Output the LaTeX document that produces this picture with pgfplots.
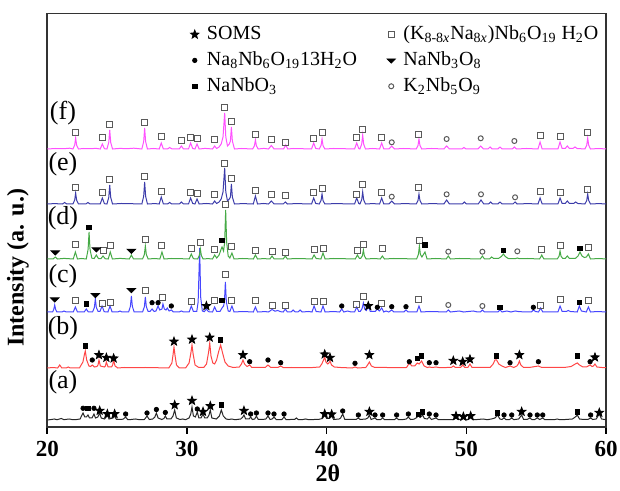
\documentclass[border=0pt]{standalone}
\usepackage{pgfplots}
\pgfplotsset{compat=1.18}
\usepackage{pgfplotstable}
\usepackage{fontspec}
\setmainfont{Liberation Serif}

\definecolor{cA}{RGB}{40,40,40}
\definecolor{cB}{RGB}{255,70,70}
\definecolor{cC}{RGB}{70,70,255}
\definecolor{cD}{RGB}{70,170,70}
\definecolor{cE}{RGB}{60,60,170}
\definecolor{cF}{RGB}{255,80,255}
\definecolor{mk}{RGB}{90,90,90}

% filled five-point star
\pgfdeclareplotmark{fstar}{%
  \pgfpathmoveto{\pgfpointpolar{90}{\pgfplotmarksize}}%
  \pgfpathlineto{\pgfpointpolar{126}{0.42\pgfplotmarksize}}%
  \pgfpathlineto{\pgfpointpolar{162}{\pgfplotmarksize}}%
  \pgfpathlineto{\pgfpointpolar{198}{0.42\pgfplotmarksize}}%
  \pgfpathlineto{\pgfpointpolar{234}{\pgfplotmarksize}}%
  \pgfpathlineto{\pgfpointpolar{270}{0.42\pgfplotmarksize}}%
  \pgfpathlineto{\pgfpointpolar{306}{\pgfplotmarksize}}%
  \pgfpathlineto{\pgfpointpolar{342}{0.42\pgfplotmarksize}}%
  \pgfpathlineto{\pgfpointpolar{18}{\pgfplotmarksize}}%
  \pgfpathlineto{\pgfpointpolar{54}{0.42\pgfplotmarksize}}%
  \pgfpathclose\pgfusepathqfillstroke}
% flat down-pointing wedge
\pgfdeclareplotmark{dtri}{%
  \pgfpathmoveto{\pgfpoint{-1.4*\pgfplotmarksize}{0.5*\pgfplotmarksize}}%
  \pgfpathlineto{\pgfpoint{1.4*\pgfplotmarksize}{0.5*\pgfplotmarksize}}%
  \pgfpathlineto{\pgfpoint{0pt}{-0.9*\pgfplotmarksize}}%
  \pgfpathclose\pgfusepathqfillstroke}

% (f) magenta
\pgfplotstableread{
x y
20.00 0
20.6 0.5
21.2 0.3
21.6 0.8
21.83 0
21.96 3.8
22.03 11
22.10 3.8
22.23 0
22.6 0.5
23.0 0.3
23.5 0.6
23.79 0
23.94 5
24.09 0.3
24.27 0
24.40 6.6
24.47 19
24.54 6.6
24.67 0
25.2 0.6
25.7 0.3
26.2 0.8
26.77 0
26.90 7.3
26.97 21
27.04 7.3
27.17 0
27.6 0.5
28.01 0
28.16 6
28.31 0
28.61 0
28.76 1.5
28.91 0.2
29.45 0
29.60 3
29.75 0
30.11 0
30.26 6
30.41 0.5
30.57 0
30.72 5
30.87 0
31.3 0.6
31.83 0
31.98 3
32.12 0.5
32.30 2
32.45 5
32.58 12
32.70 36
32.78 12
32.90 3
33.03 5
33.11 8
33.18 22
33.25 8
33.40 0
33.9 0.5
34.70 0
34.83 3.2
34.90 9
34.97 3.2
35.10 0
35.5 0.6
35.84 0
36.04 3.5
36.24 0
36.92 0
37.07 4
37.22 0
37.6 0.5
38.2 0.3
38.92 0
39.07 6
39.22 0.5
39.47 0
39.60 3.5
39.67 10
39.74 3.5
39.87 0
40.5 0.5
41.2 0.3
42.00 0
42.15 6
42.30 0.5
42.38 0
42.51 4.9
42.58 14
42.65 4.9
42.78 0
43.3 0.5
43.79 0
43.94 6
44.09 0
44.46 0
44.66 3
44.86 0
45.5 0.5
46.41 0
46.54 3.5
46.61 10
46.68 3.5
46.81 0
47.5 0.5
48.39 0
48.59 3
48.79 0
49.68 0
49.83 1.5
49.98 0
50.83 0
51.03 3
51.23 0
51.55 0
51.70 2
51.85 0
52.26 0
52.41 2
52.56 0
53.29 0
53.44 2
53.59 0
54.3 0.5
55.13 0
55.28 7
55.43 0
56.56 0
56.71 7
56.86 0.5
57.08 0.5
57.23 3
57.38 0.5
57.63 0.5
57.78 2
57.93 0.5
58.49 0
58.62 3.8
58.69 11
58.76 3.8
58.89 0
59.5 0.5
60.00 0
}\trF

% (e) navy
\pgfplotstableread{
x y
20.00 0
20.5 0.4
21.09 0
21.24 1.5
21.39 0
21.83 0
21.96 3.8
22.03 11
22.10 3.8
22.23 0
22.76 0
22.91 1.5
23.06 0
23.79 0
23.94 6
24.09 0.3
24.27 0
24.40 6.6
24.47 19
24.54 6.6
24.67 0
25.3 0.5
26.0 0.3
26.77 0
26.90 7.7
26.97 22
27.04 7.7
27.17 0
27.7 0.4
28.01 0
28.16 7
28.31 0
28.61 0
28.76 1.5
28.91 0
29.45 0
29.60 2
29.75 0
30.11 0
30.26 6
30.41 0.5
30.57 0
30.72 5
30.87 0
31.4 0.5
31.83 0
31.98 3
32.12 0.5
32.30 2
32.45 5
32.58 12
32.70 36
32.78 12
32.90 3
33.03 5
33.11 7
33.18 20
33.25 7
33.40 0
34.0 0.4
34.75 0
34.90 8
35.05 0
35.5 0.5
35.84 0
36.04 3
36.24 0
36.89 0
37.04 2
37.19 0
37.8 0.4
38.92 0
39.07 6
39.22 0.5
39.47 0
39.60 3.5
39.67 10
39.74 3.5
39.87 0
40.6 0.4
41.3 0.2
42.00 0
42.15 6
42.30 0.5
42.38 0
42.51 4.2
42.58 12
42.65 4.2
42.78 0
43.3 0.4
43.79 0
43.94 6
44.09 0
44.46 0
44.66 3
44.86 0
45.6 0.4
46.41 0
46.54 3.5
46.61 10
46.68 3.5
46.81 0
47.6 0.4
48.39 0
48.59 4
48.79 0
49.71 0
49.86 2
50.01 0
50.85 0
51.05 4
51.25 0
51.59 0
51.74 2
51.89 0
52.26 0
52.41 2
52.56 0
53.34 0
53.49 2
53.64 0
54.4 0.4
55.13 0
55.28 6
55.43 0
56.56 0
56.71 6
56.86 0.5
57.08 0.5
57.23 3
57.38 0.5
57.68 0.5
57.83 2
57.98 0.5
58.49 0
58.62 3.5
58.69 10
58.76 3.5
58.89 0
59.5 0.4
60.00 0
}\trE

% (d) green
\pgfplotstableread{
x y
20.00 0
20.42 0
20.57 2
20.72 0
21.2 0.6
21.86 0
22.01 7
22.16 0
22.45 0.5
22.79 0
22.92 9.5
22.99 27
23.06 9.5
23.19 0.8
23.36 0.5
23.51 4
23.66 0.5
23.84 0.3
23.99 3
24.14 0.3
24.36 0
24.51 7
24.66 0
25.2 0.6
25.87 0
26.02 4
26.17 0
26.82 0
26.95 4.5
27.02 13
27.09 4.5
27.22 0
27.7 0.5
28.06 0
28.21 7
28.36 0
28.9 0.5
29.6 0.3
30.16 0
30.31 5
30.46 0.3
30.76 0
30.89 3.5
30.96 10
31.03 3.5
31.16 0
31.5 0.4
31.83 0
31.98 4
32.13 1
32.30 4
32.45 10
32.51 12
32.62 8
32.70 17
32.77 49
32.84 17
32.95 3
33.07 1
33.22 6
33.37 0
34.0 0.5
34.75 0
34.90 4
35.05 0
35.5 0.4
35.94 0
36.09 3
36.24 0
36.89 0
37.04 3
37.19 0
37.8 0.5
38.4 0.3
38.95 0
39.10 4
39.25 0.5
39.59 0
39.74 6
39.89 0
40.5 0.5
41.2 0.3
42.05 0
42.20 4
42.35 0.5
42.43 0.5
42.56 3.2
42.63 9
42.70 3.2
42.83 0
43.4 0.5
43.84 0
43.99 3
44.14 0
44.8 0.5
45.6 0.3
46.44 0
46.57 4.6
46.64 13
46.71 4.6
46.82 2
47.04 7
47.19 0
47.8 0.5
48.56 0
48.71 3
48.86 0
49.5 0.5
51.00 0
51.15 3
51.30 0
51.66 0
51.81 2
51.96 0.5
52.30 0.5
52.51 2.5
52.65 5
52.79 2.5
53.00 0.5
53.50 0.3
53.65 1
53.80 0.3
54.4 0.5
55.25 0
55.40 4
55.55 0
56.51 0
56.64 2.8
56.71 8
56.78 2.8
56.91 0.5
57.08 0.5
57.23 3
57.38 0.5
57.80 0.5
58.00 3
58.14 7
58.28 3
58.45 1.5
58.60 2
58.74 5
58.89 0
59.5 0.5
60.00 0
}\trD

% (c) blue
\pgfplotstableread{
x y
20.00 0
20.38 0
20.46 2.5
20.53 7
20.60 2.5
20.68 0
21.05 0
21.20 1
21.35 0
21.86 0
22.01 5
22.16 0
22.64 0
22.79 3
22.94 0
23.24 0
23.37 4.5
23.44 13
23.51 4.5
23.64 0.5
23.77 0.5
23.92 6
24.07 0.3
24.34 0
24.49 6
24.64 0
25.05 0
25.20 1
25.35 0
25.82 0
25.95 5.6
26.02 16
26.09 5.6
26.22 0
26.82 0
26.95 5.2
27.02 15
27.09 5.2
27.22 0.5
27.35 0.5
27.50 3
27.65 0.5
27.78 1
27.93 6
28.05 2
28.21 3
28.28 8
28.38 3
28.50 2
28.59 4
28.72 1
28.88 2
29.03 0
29.45 0
29.60 1
29.75 0
30.16 0
30.31 6
30.46 0.5
30.70 0.5
30.80 10
30.91 64
30.98 15
31.10 1
31.24 0.3
31.39 3
31.54 0.3
31.83 0
31.98 5
32.13 0.5
32.36 0.5
32.51 4
32.62 6
32.68 10
32.75 30
32.82 10
32.95 1
33.07 0.5
33.22 6
33.37 0
34.0 0.5
34.75 0
34.90 5
35.05 0
35.6 0.4
35.84 0
36.09 2.5
36.30 0.8
36.50 1.5
36.70 0.3
36.89 0
37.04 3
37.19 0
37.45 0
37.60 2
37.75 0
37.95 0
38.10 2
38.25 0
38.7 0.5
38.95 0
39.10 6
39.25 0.5
39.59 0
39.74 6
39.89 0
40.5 0.5
40.93 0
41.08 3
41.23 0
41.50 1
41.75 0
42.00 0
42.15 5
42.30 0.5
42.40 0.5
42.53 3.2
42.63 9
42.72 3
42.85 1.5
42.98 6
43.13 0.5
43.48 0.5
43.63 3
43.78 1
43.94 4
44.09 0
44.25 1
44.45 0
44.66 2
44.81 0
45.53 0
45.68 2
45.83 0
46.46 0
46.61 6
46.76 0
47.4 0.5
48.56 0
48.71 2
48.86 0
49.5 1
49.8 0
50.5 1
50.8 0
51.00 0
51.15 2
51.30 0
52.26 0
52.41 2
52.56 0
52.90 1
53.20 0
53.50 1
53.80 0.3
54.65 0
54.80 2
54.95 0.5
55.17 0
55.32 4
55.47 0
56.56 0
56.71 6
56.86 0.5
57.15 0.5
57.30 1.5
57.45 0.5
57.94 0
58.09 6
58.24 1
58.59 0
58.74 5
58.89 0
59.4 0.5
60.00 0
}\trC

% (b) red
\pgfplotstableread{
x y
20.00 0
20.4 0.5
20.74 0
20.89 3
21.04 0
21.35 0
21.50 1
21.65 0
22.30 0
22.55 6
22.65 13
22.72 17
22.82 8
22.98 2
23.10 1.5
23.22 3
23.37 1
23.55 1.5
23.63 3
23.70 8
23.80 2
24.08 1
24.16 2
24.23 6
24.35 1
24.60 1
24.68 3
24.75 8
24.85 2
25.05 0
25.50 0.5
26.2 0.3
27.0 0.5
27.8 0.3
28.7 0
28.92 5
29.00 13
29.07 21
29.14 13
29.25 3
29.45 0
29.9 0
30.15 5
30.28 15
30.36 23
30.44 14
30.58 3
30.85 0.5
31.2 0.5
31.40 4
31.55 16
31.63 25
31.72 12
31.85 5
31.98 4
32.12 8
32.28 17
32.41 23
32.55 15
32.72 6
32.95 2
33.3 0.5
33.75 1
33.90 4
34.01 8
34.12 4
34.30 1.5
34.49 3
34.64 0.5
35.0 0.5
35.60 0.5
35.80 3
36.00 0.5
36.51 0.5
36.71 2
36.91 0.3
37.5 0.5
38.3 0.3
39.00 0.5
39.50 1
39.65 4
39.78 8
39.86 11
39.95 6
40.08 4
40.16 5
40.24 7
40.35 3
40.55 1
41.0 0.5
41.83 0
42.03 1
42.23 0
42.80 0.5
42.93 3
43.06 6
43.20 2
43.45 0.5
44.3 0.5
45.0 0.3
45.72 0.5
45.92 5
46.10 2
46.30 2
46.49 5
46.62 4
46.80 7
46.98 2
47.20 0.5
47.35 1
47.55 0.5
47.83 1
48.10 0.3
48.6 0.5
48.92 0.5
49.07 2
49.22 0.5
49.59 0.5
49.74 3
49.89 0.5
50.11 0.5
50.26 4
50.41 0.5
51.0 0.5
51.70 0.5
51.92 4
52.05 8
52.17 8
52.32 4
52.55 2
52.80 0.5
53.13 2
53.40 0.5
53.62 2
53.72 4
53.80 7
53.90 3
54.10 0.5
54.5 0.5
55.16 2
55.40 0.5
56.2 0.5
57.0 0.5
57.50 1.5
57.80 4
57.95 5
58.10 3
58.35 1
58.60 1
58.86 3
59.00 1.5
59.10 2
59.21 4
59.35 1
59.7 0.5
60.00 0.3
}\trB

% (a) black
\pgfplotstableread{
x y
20.00 0
20.30 0.5
20.50 1
20.70 0.3
21.00 1.5
21.20 0.3
21.45 0.8
21.60 1
21.80 0.3
22.10 0.5
22.35 1
22.48 5
22.56 7
22.68 3
22.80 3
22.91 5
23.02 2
23.20 2
23.34 6
23.45 2
23.62 3
23.75 7
23.86 2
24.10 1
24.22 3
24.30 5
24.42 1
24.70 2
24.82 4
24.95 0.5
25.30 0.5
25.45 1
25.61 3
25.76 0.3
26.00 0.5
26.30 1
26.60 0.3
26.95 0.5
27.14 4
27.30 0.5
27.55 1
27.70 3
27.81 7
27.93 2
28.20 0.5
28.35 1.5
28.45 4
28.56 1
28.85 1
29.00 4
29.12 10
29.24 2
29.50 0.5
29.70 1
29.90 0.3
30.15 2
30.27 6
30.36 13
30.46 4
30.60 3
30.74 8
30.85 2
31.00 2
31.15 6
31.27 2
31.45 2
31.58 5
31.67 10
31.78 2
32.10 1
32.32 4
32.46 10
32.60 4
32.80 1
33.00 0.5
33.20 1
33.45 0.3
33.85 1
34.00 3
34.08 5
34.20 1
34.45 1
34.56 3
34.68 0.5
34.85 1
34.97 4
35.10 0.5
35.40 0.5
35.65 1
35.80 4
35.95 0.5
36.10 1
36.23 3
36.40 0.3
36.80 0.5
36.95 3
37.10 0.3
37.40 0.5
37.70 0.5
37.83 2
37.98 0.3
38.30 0.5
38.50 1
38.70 0.3
39.10 0.5
39.40 0.5
39.70 1.5
39.86 5
40.00 1.5
40.20 1.5
40.36 4
40.50 0.5
40.90 1
41.00 2
41.15 6
41.30 0.5
41.70 0.5
42.10 0.5
42.27 2
42.40 0.5
42.80 1
42.95 2
43.06 5
43.18 0.5
43.46 2
43.60 0.3
43.85 0.3
44.01 2
44.15 0.3
44.50 0.5
44.85 0.3
45.01 2
45.15 0.3
45.50 0.5
45.70 1
45.85 3
46.00 0.5
46.25 0.8
46.40 2
46.56 4
46.70 2.5
46.87 5
47.00 1.5
47.20 1
47.35 3
47.50 0.5
47.83 2
48.00 0.3
48.40 0.5
48.70 0.3
49.10 0.5
49.26 2
49.40 0.5
49.60 0.5
49.79 2
49.93 0.5
50.15 0.5
50.31 3
50.45 0.3
50.80 0.5
51.20 1
51.50 0.3
51.80 1
52.05 2
52.24 5
52.40 1
52.55 0.5
52.70 2
52.85 0.3
53.10 0.5
53.25 2
53.40 0.3
53.75 1
53.96 5
54.10 0.5
54.35 0.5
54.56 2
54.70 0.3
54.90 0.5
55.08 2
55.25 0.5
55.47 2
55.62 0.3
56.00 0.5
56.30 0.3
56.50 1
56.70 0.3
57.10 0.5
57.60 1
57.80 3
57.95 5
58.10 1
58.40 0.5
58.70 0.5
58.90 2
59.05 0.5
59.30 1
59.52 6
59.68 1
59.90 0.5
60.00 0.3
}\trA

\begin{document}
\begin{tikzpicture}
\useasboundingbox (-23.65pt,-32pt) rectangle (286.35pt,213.5pt);
\begin{axis}[
    at={(0pt,0pt)}, anchor=south west,
    scale only axis,
    width=279.35pt, height=206.75pt,
    xmin=20, xmax=60, ymin=0, ymax=413.5,
    xtick={20,30,40,50,60},
    xticklabels={20,30,40,50,60},
    ytick=\empty,
    xtick pos=left,
    tick align=outside,
    major tick length=3.5pt,
    every tick/.style={black, line width=0.8pt},
    axis line style={black!80, line width=0.8pt},
    xticklabel style={font=\fontsize{11.5}{13}\selectfont\bfseries},
    xlabel={2θ},
    ylabel={Intensity (a. u.)},
    xlabel style={at={(axis description cs:0.502,-0.111)}, anchor=center,
        font=\fontsize{12}{14}\selectfont\bfseries},
    ylabel style={at={(axis description cs:-0.0525,0.385)}, anchor=center,
        font=\fontsize{12}{14}\selectfont\bfseries},
    legend columns=2,
    legend cell align=left,
    legend image code/.code={\draw[#1] plot coordinates {(0pt,0pt)};},
    legend style={at={(axis description cs:0.245,0.985)}, anchor=north west,
        draw=none, fill=none, font=\fontsize{10}{12}\selectfont,
        nodes={inner sep=1pt}, row sep=2.5pt,
        /tikz/every odd column/.append style={column sep=3pt},
        /tikz/every even column/.append style={column sep=14pt}},
]

\addplot[cA, line width=0.5pt, mark=none, forget plot] table[x=x, y expr=\thisrow{y}+7] {\trA};
\addplot[cB, line width=0.5pt, mark=none, forget plot] table[x=x, y expr=\thisrow{y}+59] {\trB};
\addplot[cC, line width=0.5pt, mark=none, forget plot] table[x=x, y expr=\thisrow{y}+115] {\trC};
\addplot[cD, line width=0.5pt, mark=none, forget plot] table[x=x, y expr=\thisrow{y}+168] {\trD};
\addplot[cE, line width=0.5pt, mark=none, forget plot] table[x=x, y expr=\thisrow{y}+223] {\trE};
\addplot[cF, line width=0.5pt, mark=none, forget plot] table[x=x, y expr=\thisrow{y}+278] {\trF};

% SOMS
\addplot[only marks, mark=fstar, mark size=2.2pt, black] coordinates {
(31.39,121) (42.98,121)
(23.70,72) (24.23,69.3) (24.75,68.7) (29.07,85.5) (30.36,87.5) (31.63,89.5)
(34.01,72) (39.86,72.7) (40.24,69.3) (43.06,72) (49.07,66.3) (49.74,65.3)
(50.26,67.7) (53.80,72) (59.21,69.7)
(23.75,16.3) (24.30,13) (24.82,13) (29.12,22) (30.36,26.3) (31.15,15.3)
(31.67,21) (34.08,16.3) (39.86,13) (40.36,12.7) (43.06,15.3) (49.26,11)
(49.79,10.3) (50.31,11) (53.96,15.3) (59.52,14.3)
};
\addlegendentry{SOMS}

% (K,Na) hexaniobate
\addplot[only marks, mark=square, mark size=1.5pt, mk, line width=0.5pt] coordinates {
(22.03,294.7) (23.94,289.3) (24.47,302) (26.97,304.3) (28.16,290.3) (29.60,286)
(30.26,289.3) (30.72,288) (31.98,287.7) (32.70,319.7) (33.18,305.3) (34.90,292)
(36.04,287) (37.07,284.7) (39.07,288) (39.67,294.3) (42.15,289.3) (42.58,297)
(43.94,289.3) (46.61,292) (55.28,291.3) (56.71,290.3) (58.69,294.7)
(22.03,239.3) (23.94,234.7) (24.47,247) (26.97,250) (28.16,235.3) (30.26,234.7)
(30.72,233.3) (31.98,232) (32.70,263.7) (33.18,248.5) (34.90,236.3) (36.04,232)
(37.04,231.3) (39.07,234.3) (39.67,238.7) (42.15,232.7) (42.58,242) (43.94,234.7)
(46.61,239.3) (55.28,235.3) (56.71,234.3) (58.69,237.7)
(22.01,182) (23.99,176.3) (24.51,181.3) (27.02,187.7) (28.21,181) (30.31,178.7)
(30.96,184.3) (31.98,177) (32.77,222) (33.22,180.3) (34.90,176.3) (36.09,175.3)
(37.04,174.7) (39.10,177.7) (39.74,178.7) (42.20,176) (42.63,182) (43.99,178)
(46.64,186.5) (55.40,177) (56.71,181) (58.74,179.7)
(22.01,126.3) (23.92,123.7) (24.49,124.7) (27.02,136.3) (28.28,129.7) (30.31,125.3)
(31.98,126.3) (32.75,152) (33.22,126.3) (34.90,126) (36.09,121) (37.04,121)
(39.10,125.3) (39.74,125.3) (42.15,122.7) (42.63,130) (43.94,123.7) (46.61,127)
(55.32,121.3) (56.71,127) (58.74,126)
};
\addlegendentry{(K\textsubscript{8-8\textit{x}}Na\textsubscript{8\textit{x}})Nb\textsubscript{6}O\textsubscript{19} H\textsubscript{2}O}

% Na8Nb6O19 13H2O
\addplot[only marks, mark=*, mark size=1.1pt, black] coordinates {
(27.50,124.3) (27.93,124.3) (28.88,121) (41.08,121) (43.63,119.7) (44.66,120.3)
(45.68,120.3) (54.80,119.7)
(23.22,67) (34.49,65.3) (35.80,67) (36.71,64.3) (42.03,63.7) (45.92,65.3)
(47.35,64.3) (47.83,64.3) (53.13,64.3) (55.16,65.3) (58.86,65.3)
(22.56,18.7) (23.34,18.7) (25.61,13) (27.14,14) (27.81,17.5) (28.45,14.5)
(30.74,18) (34.56,13) (34.97,14) (35.80,14) (36.23,13) (36.95,13) (41.15,16)
(42.27,12) (43.46,12) (44.01,12) (45.01,12) (45.85,13) (47.35,13) (47.83,12)
(52.70,12) (53.25,12) (54.56,12) (55.08,12) (55.47,12) (58.90,12)
};
\addlegendentry{Na\textsubscript{8}Nb\textsubscript{6}O\textsubscript{19}13H\textsubscript{2}O}

% NaNb3O8
\addplot[only marks, mark=dtri, mark size=1.5pt, black] coordinates {
(20.57,174.7) (23.51,177.7) (26.02,176.3)
(20.53,127.7) (23.44,132) (26.02,137)
};
\addlegendentry{NaNb\textsubscript{3}O\textsubscript{8}}

% NaNbO3
\addplot[only marks, mark=square*, mark size=1.1pt, black] coordinates {
(22.99,199.7) (32.51,186.3) (47.04,182) (52.65,176.3) (58.14,178.7)
(22.79,123) (32.51,126.3) (52.41,119.7) (58.09,124.3)
(22.72,81) (32.41,87) (46.49,68.7) (46.80,71) (52.17,71) (57.95,71)
(22.91,18.7) (32.46,22) (46.56,12.7) (46.87,15) (52.24,14) (57.95,15)
};
\addlegendentry{NaNbO\textsubscript{3}}

% K2Nb5O9
\addplot[only marks, mark=o, mark size=1.25pt, mk, line width=0.5pt] coordinates {
(44.66,284.7) (48.59,288) (51.03,288.7) (53.44,286)
(44.66,230.3) (48.59,232.7) (51.05,232.7) (53.49,229.7)
(48.71,175.3) (51.15,175.3) (53.65,175.7)
(48.71,122) (51.15,121)
};
\addlegendentry{K\textsubscript{2}Nb\textsubscript{5}O\textsubscript{9}}

\node[font=\fontsize{13}{15}\selectfont] at (axis cs:21.12,314) {(f)};
\node[font=\fontsize{13}{15}\selectfont] at (axis cs:21.12,263) {(e)};
\node[font=\fontsize{13}{15}\selectfont] at (axis cs:21.12,209) {(d)};
\node[font=\fontsize{13}{15}\selectfont] at (axis cs:21.12,151) {(c)};
\node[font=\fontsize{13}{15}\selectfont] at (axis cs:21.12,99) {(b)};
\node[font=\fontsize{13}{15}\selectfont] at (axis cs:21.12,45) {(a)};

\end{axis}
\end{tikzpicture}
\end{document}
